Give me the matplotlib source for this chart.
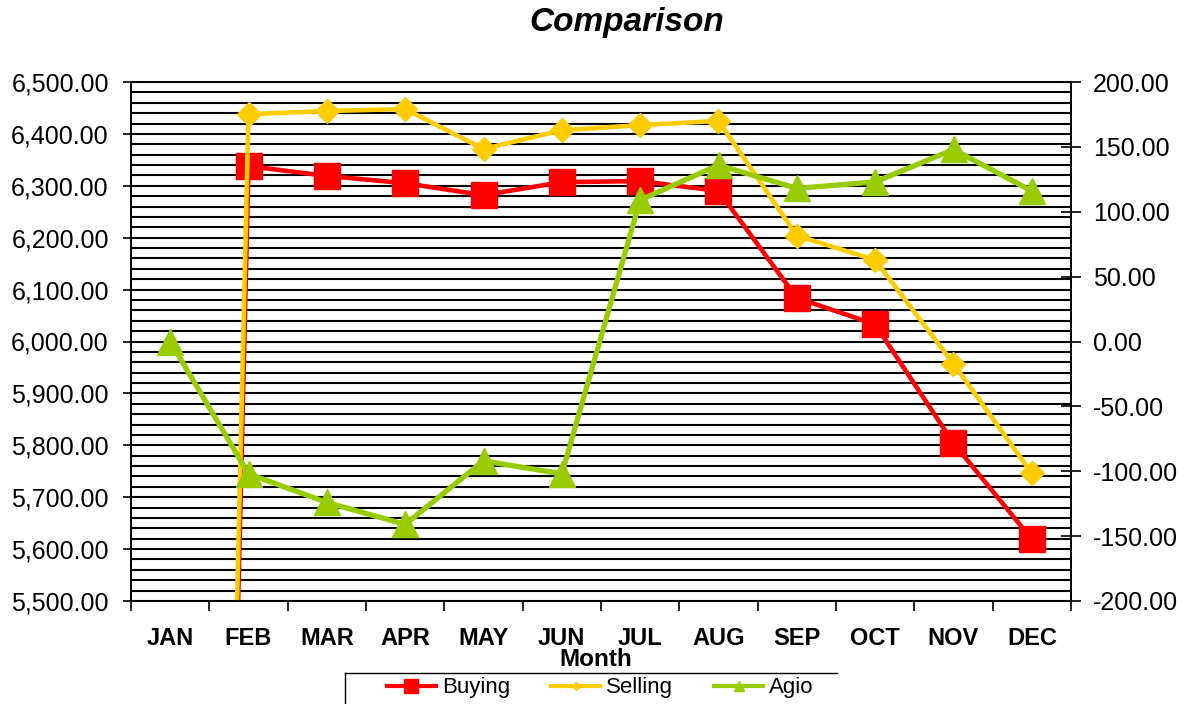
import matplotlib
matplotlib.use('Agg')
import matplotlib.pyplot as plt
from matplotlib.lines import Line2D
from matplotlib.ticker import FuncFormatter, MultipleLocator

months = ['JAN', 'FEB', 'MAR', 'APR', 'MAY', 'JUN', 'JUL', 'AUG', 'SEP', 'OCT', 'NOV', 'DEC']
buying = [0, 6338, 6319, 6305, 6282, 6307, 6309, 6290, 6084, 6033, 5804, 5619]
selling = [0, 6438, 6444, 6448, 6371, 6407, 6417, 6425, 6204, 6157, 5957, 5746]
agio = [0, -102, -124, -141, -92, -102, 109, 136, 118, 123, 148, 116]

RED = '#FF0000'
YEL = '#FFCC00'
GRN = '#99CC00'

plt.rcParams['font.family'] = ['Liberation Sans', 'DejaVu Sans']
plt.rcParams['axes.unicode_minus'] = False

W, H = 1190, 704
fig = plt.figure(figsize=(W / 100, H / 100), dpi=100)
ax = fig.add_axes([131 / W, 1 - 601 / H, 940 / W, 519 / H])

x = list(range(len(months)))
ax.plot(x, buying, color=RED, lw=3.3, marker='s', ms=19, mec=RED, mfc=RED, zorder=3)
ax.plot(x, selling, color=YEL, lw=3.3, marker='D', ms=12.5, mec=YEL, mfc=YEL, zorder=4)

ax.set_xlim(-0.5, len(months) - 0.5)
ax.set_ylim(5500, 6500)
ax.yaxis.set_major_locator(MultipleLocator(100))
ax.yaxis.set_minor_locator(MultipleLocator(20))
ax.grid(True, which='both', axis='y', color='black', lw=1.5)
ax.set_axisbelow(True)
ax.yaxis.set_major_formatter(FuncFormatter(lambda v, p: f'{v:,.2f}'))
ax.tick_params(axis='y', which='major', direction='inout', length=11, width=1.2, pad=10.5, labelsize=18)
ax.tick_params(axis='y', which='minor', length=0)

ax.set_xticks([i - 0.5 for i in range(len(months) + 1)])
ax.set_xticklabels([])
ax.set_xticks(x, minor=True)
ax.set_xticklabels(months, minor=True, fontweight='bold', fontsize=17)
ax.tick_params(axis='x', which='major', direction='out', length=7, width=1.2)
ax.tick_params(axis='x', which='minor', length=0, pad=19)
ax.set_xlabel('Month', fontweight='bold', fontsize=17.5)
ax.xaxis.set_label_coords((596 - 131) / 940, (601 - 659) / 519)
ax.xaxis.label.set_va('center')

for s in ax.spines.values():
    s.set_linewidth(1.3)
    s.set_color('black')

ax2 = ax.twinx()
ax2.plot(x, agio, color=GRN, lw=3.8, marker='^', ms=19, mec=GRN, mfc=GRN, zorder=5)
ax2.set_ylim(-200, 200)
ax2.yaxis.set_major_locator(MultipleLocator(50))
ax2.yaxis.set_major_formatter(FuncFormatter(lambda v, p: f'{v:.2f}'))
ax2.tick_params(axis='y', which='major', direction='inout', length=14, width=1.2, pad=8.6, labelsize=18)
for s in ax2.spines.values():
    s.set_linewidth(1.3)

fig.text(627 / W, 1 - 22 / H, 'Comparison', ha='center', va='center',
         fontsize=24, fontweight='bold', fontstyle='italic')

handles = [
    Line2D([], [], color=RED, lw=3.0, marker='s', ms=9.5, mec=RED, mfc=RED),
    Line2D([], [], color=YEL, lw=3.0, marker='D', ms=4.5, mec=YEL, mfc=YEL),
    Line2D([], [], color=GRN, lw=3.0, marker='^', ms=7.5, mec=GRN, mfc=GRN),
]
fig.legend(handles, ['Buying', 'Selling', 'Agio'], loc='center left',
           bbox_to_anchor=(387 / W, 1 - 688 / H), ncol=3, frameon=False,
           fontsize=16, handlelength=2.2, handletextpad=0.27, columnspacing=1.85,
           borderpad=0, borderaxespad=0)
fig.add_artist(Line2D([345 / W, 837 / W], [1 - 673 / H, 1 - 673 / H],
                      transform=fig.transFigure, color='black', lw=1.0))
fig.add_artist(Line2D([345 / W, 345 / W], [1 - 673 / H, 0],
                      transform=fig.transFigure, color='black', lw=1.0))

fig.savefig('out.png', dpi=100)
